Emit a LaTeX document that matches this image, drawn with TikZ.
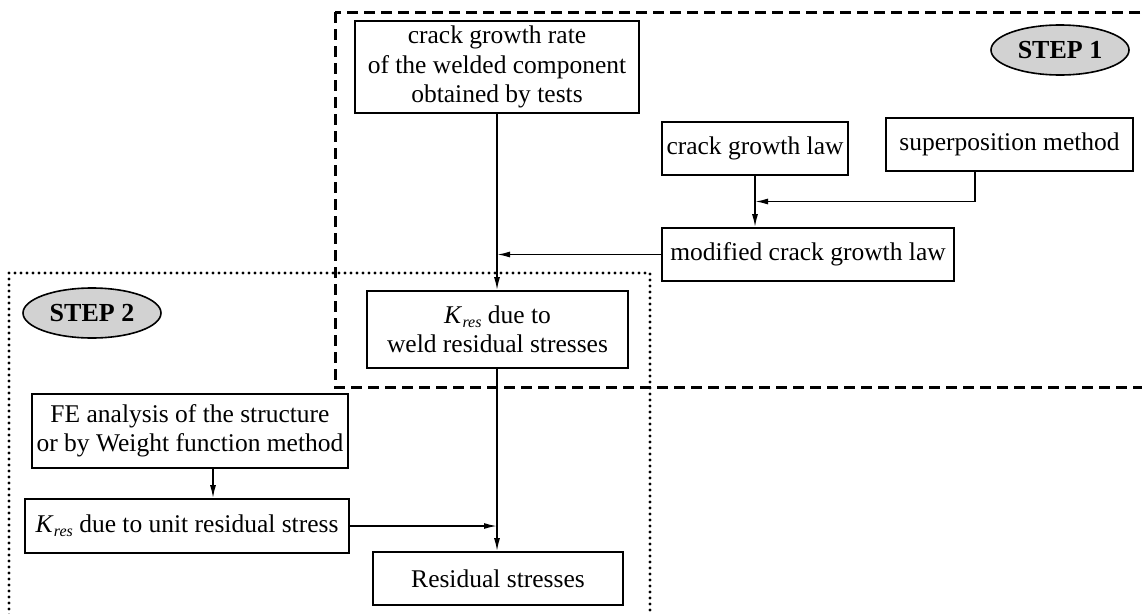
\documentclass[tikz,border=0pt]{standalone}
\usepackage{fontspec}
\setmainfont{Liberation Serif}
\usetikzlibrary{arrows.meta,shapes.geometric,calc}
\newcommand{\Kres}{\textit{K}\kern0.3pt\raisebox{-0.35ex}{\fontsize{16}{16}\selectfont\textit{res}}}
\begin{document}
\begin{tikzpicture}[x=1pt,y=-1pt,
  box/.style={draw, line width=1.6pt, inner sep=0pt, align=center, font=\fontsize{25.5}{29.5}\selectfont},
  arr/.style={line width=1.6pt, -{Latex[length=13pt,width=6pt]}},
  stepell/.style={ellipse, draw, line width=1.6pt, fill=gray!35, inner sep=0pt, minimum width=138pt, minimum height=50pt, font=\fontsize{26}{26}\selectfont\bfseries},
  dashbox/.style={line width=3pt, dash pattern=on 11pt off 6pt},
  dotbox/.style={line width=3.2pt, dash pattern=on 0pt off 6pt, line cap=round}
  ]
\useasboundingbox (0,0) rectangle (1142,613);
\begin{scope}
\clip (0,0) rectangle (1142,613);
\draw[dashbox] (335,12) rectangle (1170,387);
\draw[dotbox] (9,273) rectangle (650,640);
\end{scope}

\node[stepell] (s1) at (1060,50) {STEP 1};
\node[stepell] (s2) at (92,313) {STEP 2};

\node[box, minimum width=284pt, minimum height=92pt] (A) at (497,67) {crack growth rate\\of the welded component\\obtained by tests};
\node[box, minimum width=186pt, minimum height=53pt] (cgl) at (755,148.5) {crack growth law};
\node[box, minimum width=247pt, minimum height=53pt] (sup) at (1009.5,144.5) {superposition method};
\node[box, minimum width=292pt, minimum height=53pt] (mod) at (808,254.5) {modified crack growth law};
\node[box, minimum width=261pt, minimum height=77pt] (Kw) at (497.5,329.5) {\Kres{} due to\\weld residual stresses};
\node[box, minimum width=316pt, minimum height=74pt] (FE) at (190,431) {FE analysis of the structure\\or by Weight function method};
\node[box, minimum width=324pt, minimum height=54pt] (Ku) at (187,526) {\Kres{} due to unit residual stress};
\node[box, minimum width=250pt, minimum height=53pt] (Res) at (498,578.5) {Residual stresses};

\coordinate (xs) at (975,0);
\coordinate (xf) at (213,0);
\coordinate (j1) at ($(cgl.south)!0.5!(cgl.south |- mod.north)$);

\draw[arr] (A.south) -- (A.south |- Kw.north);
\draw[arr] (mod.west) -- (mod.west -| A.south);
\draw[arr] (cgl.south) -- (cgl.south |- mod.north);
\draw[arr] (sup.south -| xs) |- (j1);
\draw[arr] (Kw.south -| A.south) -- (A.south |- Res.north);
\draw[arr] (FE.south -| xf) -- (Ku.north -| xf);
\draw[arr] (Ku.east) -- (Ku.east -| A.south);
\end{tikzpicture}
\end{document}
